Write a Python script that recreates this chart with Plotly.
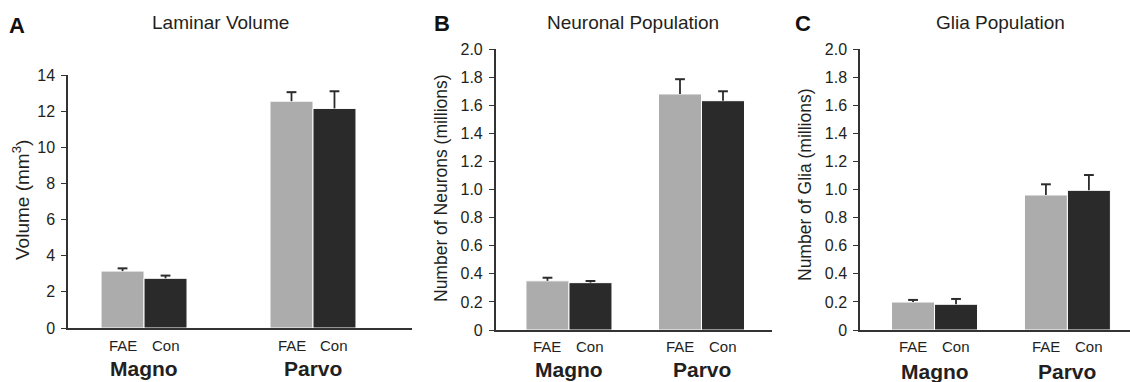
import plotly.graph_objects as go

# ---------------- data ----------------
groups = ["Magno", "Parvo"]
conditions = ["FAE", "Con"]

volume_fae = [3.15, 12.55]
volume_fae_err = [0.15, 0.50]
volume_con = [2.75, 12.15]
volume_con_err = [0.15, 0.95]

neurons_fae = [0.350, 1.680]
neurons_fae_err = [0.022, 0.105]
neurons_con = [0.337, 1.632]
neurons_con_err = [0.012, 0.067]

glia_fae = [0.199, 0.961]
glia_fae_err = [0.015, 0.076]
glia_con = [0.183, 0.994]
glia_con_err = [0.038, 0.109]

vol_ticks = [0, 2, 4, 6, 8, 10, 12, 14]
vol_ticktext = ["0", "2", "4", "6", "8", "10", "12", "14"]
pop_ticks = [0, 0.2, 0.4, 0.6, 0.8, 1.0, 1.2, 1.4, 1.6, 1.8, 2.0]
pop_ticktext = ["0", "0.2", "0.4", "0.6", "0.8", "1.0", "1.2", "1.4", "1.6", "1.8", "2.0"]

panel_letters = ["A", "B", "C"]
panel_titles = ["Laminar Volume", "Neuronal Population", "Glia Population"]
y_titles = ["Volume (mm<sup>3</sup>)", "Number of Neurons (millions)", "Number of Glia (millions)"]

# ---------------- style ----------------
W, H = 1130, 382
FAE_COLOR = "#ABACAB"
CON_COLOR = "#2A2A2A"
TEXT = "#231F20"
AXIS = "#333333"
ERR = "#2B2B2B"
FONT = "Liberation Sans, Arial, sans-serif"

def py(px):
    return 1 - px / H

panels = [
    dict(vals=(volume_fae, volume_fae_err, volume_con, volume_con_err),
         xdom=(68 / W, 412 / W), ydom=(py(328), py(75)), yr=[0, 14],
         xr=[-0.45, 1.586], bw=0.2544, ticks=(vol_ticks, vol_ticktext),
         letter=(17, 25), title=(220, 22), ytitle=(21, 200), ytsize=19,
         sub_y=345, grp_y=368),
    dict(vals=(neurons_fae, neurons_fae_err, neurons_con, neurons_con_err),
         xdom=(495.7 / W, 772 / W), ydom=(py(330), py(49)), yr=[0, 2.0],
         xr=[-0.553, 1.532], bw=0.3245, ticks=(pop_ticks, pop_ticktext),
         letter=(442, 24), title=(633, 22), ytitle=(441, 188), ytsize=17.5,
         sub_y=346, grp_y=369),
    dict(vals=(glia_fae, glia_fae_err, glia_con, glia_con_err),
         xdom=(860 / W, 1.0), ydom=(py(330), py(49)), yr=[0, 2.0],
         xr=[-0.561, 1.471], bw=0.3235, ticks=(pop_ticks, pop_ticktext),
         letter=(803, 24), title=(1000, 22), ytitle=(805, 185), ytsize=17.5,
         sub_y=346, grp_y=371),
]

fig = go.Figure()
annotations = []
gx = list(range(len(groups)))

for i, p in enumerate(panels):
    n = "" if i == 0 else str(i + 1)
    xa, ya = "x" + n, "y" + n
    fae, fae_err, con, con_err = p["vals"]
    bw = p["bw"]
    for vals, errs, color, off in ((fae, fae_err, FAE_COLOR, -bw), (con, con_err, CON_COLOR, 0.0)):
        fig.add_trace(go.Bar(
            x=gx, y=vals, width=bw, offset=off,
            marker=dict(color=color, line=dict(color="white", width=1)),
            error_y=dict(type="data", array=errs, arrayminus=[0] * len(errs),
                         symmetric=False, color=ERR, thickness=1.8, width=0),
            xaxis=xa, yaxis=ya, showlegend=False, hoverinfo="skip"))
        # caps on top of the (one-sided) error bars
        fig.add_trace(go.Scatter(
            x=[g + off + bw / 2 for g in gx],
            y=[v + e for v, e in zip(vals, errs)],
            mode="markers",
            marker=dict(symbol="line-ew", size=7, line=dict(color=ERR, width=2)),
            xaxis=xa, yaxis=ya, showlegend=False, hoverinfo="skip", cliponaxis=False))
    tv, tt = p["ticks"]
    fig.update_layout(**{
        "xaxis" + n: dict(domain=list(p["xdom"]), range=p["xr"], anchor=ya,
                          showline=True, linecolor=AXIS, linewidth=1.5,
                          showticklabels=False, ticks="", showgrid=False, zeroline=False,
                          fixedrange=True, automargin=False),
        "yaxis" + n: dict(domain=list(p["ydom"]), range=p["yr"], anchor=xa,
                          showline=True, linecolor=AXIS, linewidth=1.5,
                          tickvals=tv, ticktext=tt, ticks="outside", ticklen=5,
                          tickwidth=1.2, tickcolor=AXIS, ticklabelstandoff=3,
                          tickfont=dict(family=FONT, size=16, color=TEXT),
                          showgrid=False, zeroline=False, fixedrange=True,
                          automargin=False),
    })
    for g in gx:
        for c, off in zip(conditions, (-bw / 2, bw / 2)):
            annotations.append(dict(x=g + off, y=py(p["sub_y"]), xref=xa, yref="paper",
                                    text=c, showarrow=False, xanchor="center", yanchor="middle",
                                    font=dict(family=FONT, size=15, color=TEXT)))
        annotations.append(dict(x=g, y=py(p["grp_y"]), xref=xa, yref="paper",
                                text="<b>" + groups[g] + "</b>", showarrow=False,
                                xanchor="center", yanchor="middle",
                                font=dict(family=FONT, size=21, color=TEXT)))
    lx, ly = p["letter"]
    annotations.append(dict(x=lx / W, y=py(ly), xref="paper", yref="paper",
                            text="<b>" + panel_letters[i] + "</b>", showarrow=False,
                            xanchor="center", yanchor="middle",
                            font=dict(family=FONT, size=22, color="#111111")))
    tx, ty = p["title"]
    annotations.append(dict(x=tx / W, y=py(ty), xref="paper", yref="paper",
                            text=panel_titles[i], showarrow=False,
                            xanchor="center", yanchor="middle",
                            font=dict(family=FONT, size=19, color=TEXT)))
    yx, yy = p["ytitle"]
    annotations.append(dict(x=yx / W, y=py(yy), xref="paper", yref="paper",
                            text=y_titles[i], showarrow=False, textangle=-90,
                            xanchor="center", yanchor="middle",
                            font=dict(family=FONT, size=p["ytsize"], color=TEXT)))

fig.update_layout(
    template="none",
    width=W, height=H, margin=dict(l=0, r=0, t=0, b=0, autoexpand=False),
    paper_bgcolor="white", plot_bgcolor="white",
    barmode="overlay", annotations=annotations,
    font=dict(family=FONT, color=TEXT),
)

fig.write_html("out.html", config={"displayModeBar": False},
               post_script="document.body.style.margin='0';document.body.style.padding='0';")
